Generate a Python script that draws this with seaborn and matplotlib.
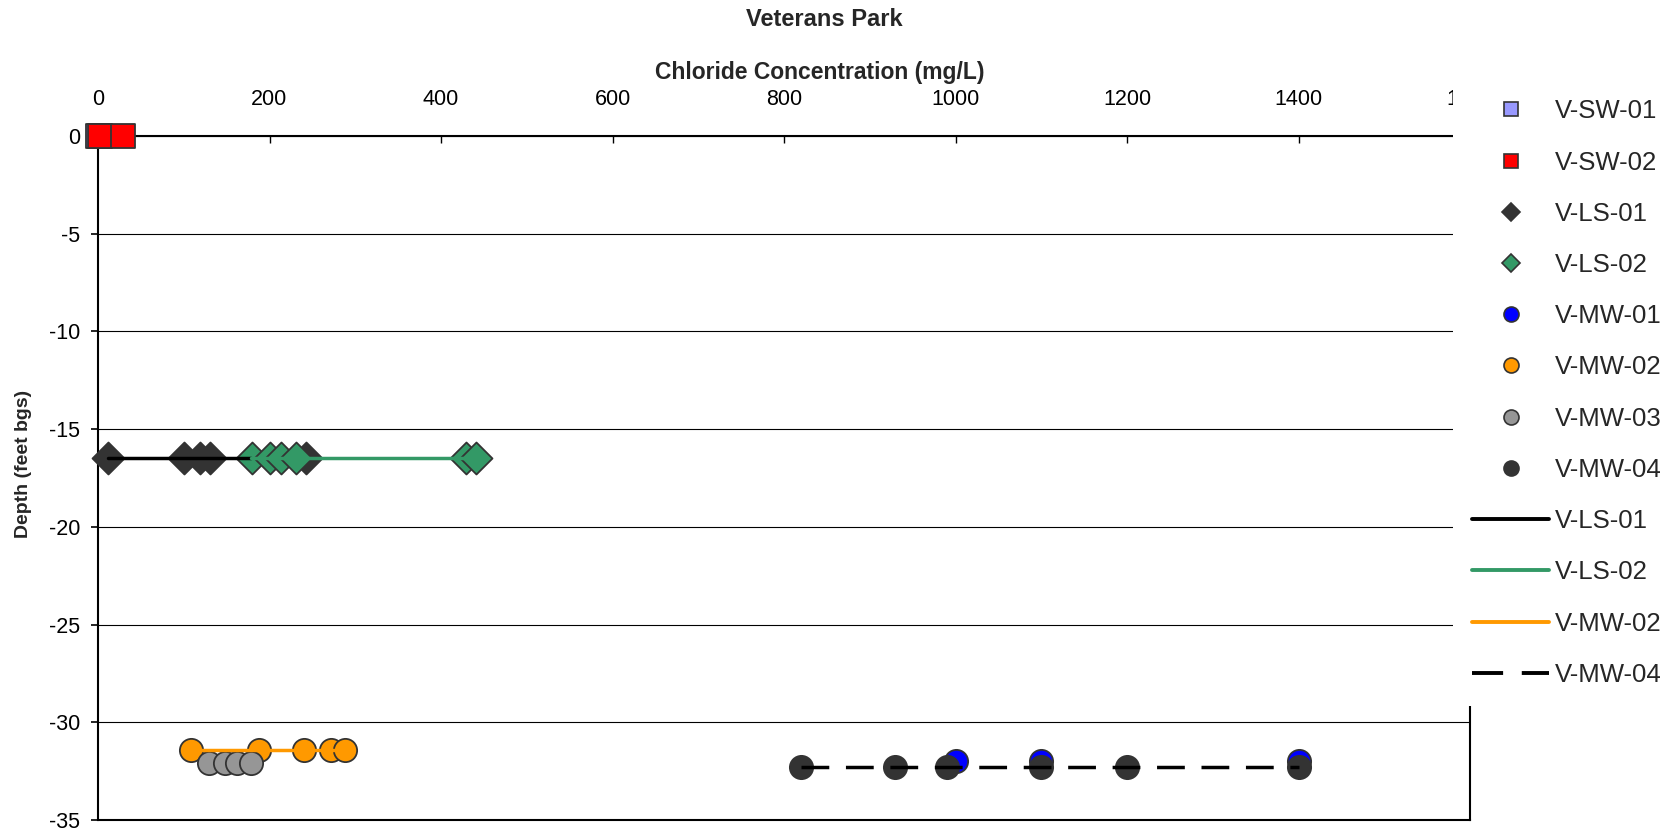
import matplotlib
matplotlib.use("Agg")
import matplotlib.pyplot as plt
from matplotlib.lines import Line2D
import seaborn as sns

# Chloride concentration (mg/L) against sample depth (feet bgs), by sampling location
sw01_conc = [0]
sw01_depth = [0]
sw02_conc = [2, 29]
sw02_depth = [0, 0]
ls01_conc = [12, 100, 119, 131, 242]
ls01_depth = [-16.5, -16.5, -16.5, -16.5, -16.5]
ls02_conc = [180, 201, 213, 231, 429, 441]
ls02_depth = [-16.5, -16.5, -16.5, -16.5, -16.5, -16.5]
mw01_conc = [1001, 1100, 1400]
mw01_depth = [-32.0, -32.0, -32.0]
mw02_conc = [108, 188, 240, 272, 288]
mw02_depth = [-31.4, -31.4, -31.4, -31.4, -31.4]
mw03_conc = [129, 148, 162, 178]
mw03_depth = [-32.1, -32.1, -32.1, -32.1]
mw04_conc = [820, 930, 990, 1100, 1200, 1400]
mw04_depth = [-32.3, -32.3, -32.3, -32.3, -32.3, -32.3]

# Trend lines
ls01_line_conc = [12, 178]
ls01_line_depth = [-16.5, -16.5]
ls02_line_conc = [178, 436]
ls02_line_depth = [-16.5, -16.5]
mw02_line_conc = [108, 295]
mw02_line_depth = [-31.4, -31.4]
mw04_line_conc = [820, 1400]
mw04_line_depth = [-32.3, -32.3]

x_ticks = [0, 200, 400, 600, 800, 1000, 1200, 1400, 1600]
y_ticks = [0, -5, -10, -15, -20, -25, -30, -35]

sns.set_theme(style="white")
plt.rcParams["font.family"] = ["Liberation Sans", "DejaVu Sans"]
plt.rcParams["axes.unicode_minus"] = False

EDGE = "#333333"
point_series = [
    ("V-SW-01", sw01_conc, sw01_depth, "s", "#9999FF", 320),
    ("V-SW-02", sw02_conc, sw02_depth, "s", "#FF0000", 320),
    ("V-LS-01", ls01_conc, ls01_depth, "D", "#333333", 265),
    ("V-LS-02", ls02_conc, ls02_depth, "D", "#339966", 265),
    ("V-MW-01", mw01_conc, mw01_depth, "o", "#0000FF", 280),
    ("V-MW-02", mw02_conc, mw02_depth, "o", "#FF9900", 280),
    ("V-MW-03", mw03_conc, mw03_depth, "o", "#969696", 280),
    ("V-MW-04", mw04_conc, mw04_depth, "o", "#333333", 280),
]
line_series = [
    ("V-LS-01", ls01_line_conc, ls01_line_depth, "#000000", "-"),
    ("V-LS-02", ls02_line_conc, ls02_line_depth, "#339966", "-"),
    ("V-MW-02", mw02_line_conc, mw02_line_depth, "#FF9900", "-"),
    ("V-MW-04", mw04_line_conc, mw04_line_depth, "#000000", (0, (8, 4.8))),
]

fig = plt.figure(figsize=(16.79, 8.30), dpi=100)
ax = fig.add_axes([98 / 1679, 10 / 830, 1372 / 1679, 684 / 830])

z = 3
for label, xs, ys, mk, col, size in point_series:
    sns.scatterplot(x=xs, y=ys, ax=ax, marker=mk, s=size, color=col,
                    edgecolor=EDGE, linewidth=1.3, legend=False, zorder=z)
    ax.collections[-1].set_clip_on(False)
    z += 0.1

for label, xs, ys, col, ls in line_series:
    sns.lineplot(x=xs, y=ys, ax=ax, color=col, linewidth=2.5, estimator=None,
                 sort=False, legend=False, zorder=z)
    ax.lines[-1].set_linestyle(ls)
    z += 0.1

ax.set_xlim(0, 1600)
ax.set_ylim(-35, 0)
ax.set_xticks(x_ticks)
ax.set_yticks(y_ticks)
ax.set_xticklabels([str(v) for v in x_ticks])
ax.set_yticklabels([str(v) for v in y_ticks])

ax.xaxis.tick_top()
ax.tick_params(axis="x", top=True, bottom=False, direction="in", length=5,
               width=1, pad=19, labelsize=15.5, colors="black")
ax.tick_params(axis="y", left=True, right=False, direction="out", length=5,
               width=1.2, pad=8, labelsize=15.5, colors="black")

ax.yaxis.grid(True, color="black", linewidth=0.8)
ax.xaxis.grid(False)
ax.set_axisbelow(True)
for sp in ax.spines.values():
    sp.set_visible(True)
    sp.set_color("black")
    sp.set_linewidth(1.5)

ax.xaxis.set_label_position("top")
ax.set_xlabel("Chloride Concentration (mg/L)", fontsize=16.5, fontweight="bold")
ax.xaxis.set_label_coords((820 - 98) / 1372, (820 - 73) / 684)
ax.xaxis.label.set_va("center")
ax.xaxis.label.set_ha("center")

ax.set_ylabel("Depth (feet bgs)", fontsize=14, fontweight="bold")
ax.yaxis.set_label_coords((24 - 98) / 1372, (820 - 464) / 684)
ax.yaxis.label.set_va("center")
ax.yaxis.label.set_ha("center")

fig.text(824 / 1679, 1 - 19 / 830, "Veterans Park", ha="center", va="center",
         fontsize=17, fontweight="bold")

handles = []
labels = []
legend_sizes = {"s": 10.5, "D": 9.2, "o": 10.8}
for label, xs, ys, mk, col, size in point_series:
    handles.append(Line2D([], [], linestyle="none", marker=mk, markersize=legend_sizes[mk],
                          markerfacecolor=col, markeredgecolor=EDGE, markeredgewidth=1.2))
    labels.append(label)
for label, xs, ys, col, ls in line_series:
    handles.append(Line2D([], [], color=col, linewidth=2.8, linestyle=ls))
    labels.append(label)

leg = fig.legend(handles, labels, loc="upper left",
                 bbox_to_anchor=(1453 / 1679, 1 - 80 / 830),
                 bbox_transform=fig.transFigure, frameon=True, facecolor="white",
                 edgecolor="none", framealpha=1, fancybox=False, fontsize=18.5,
                 handlelength=3.0, handletextpad=0.2, labelspacing=1.06,
                 borderpad=0.75, borderaxespad=0)

fig.savefig("out.png", dpi=100)
